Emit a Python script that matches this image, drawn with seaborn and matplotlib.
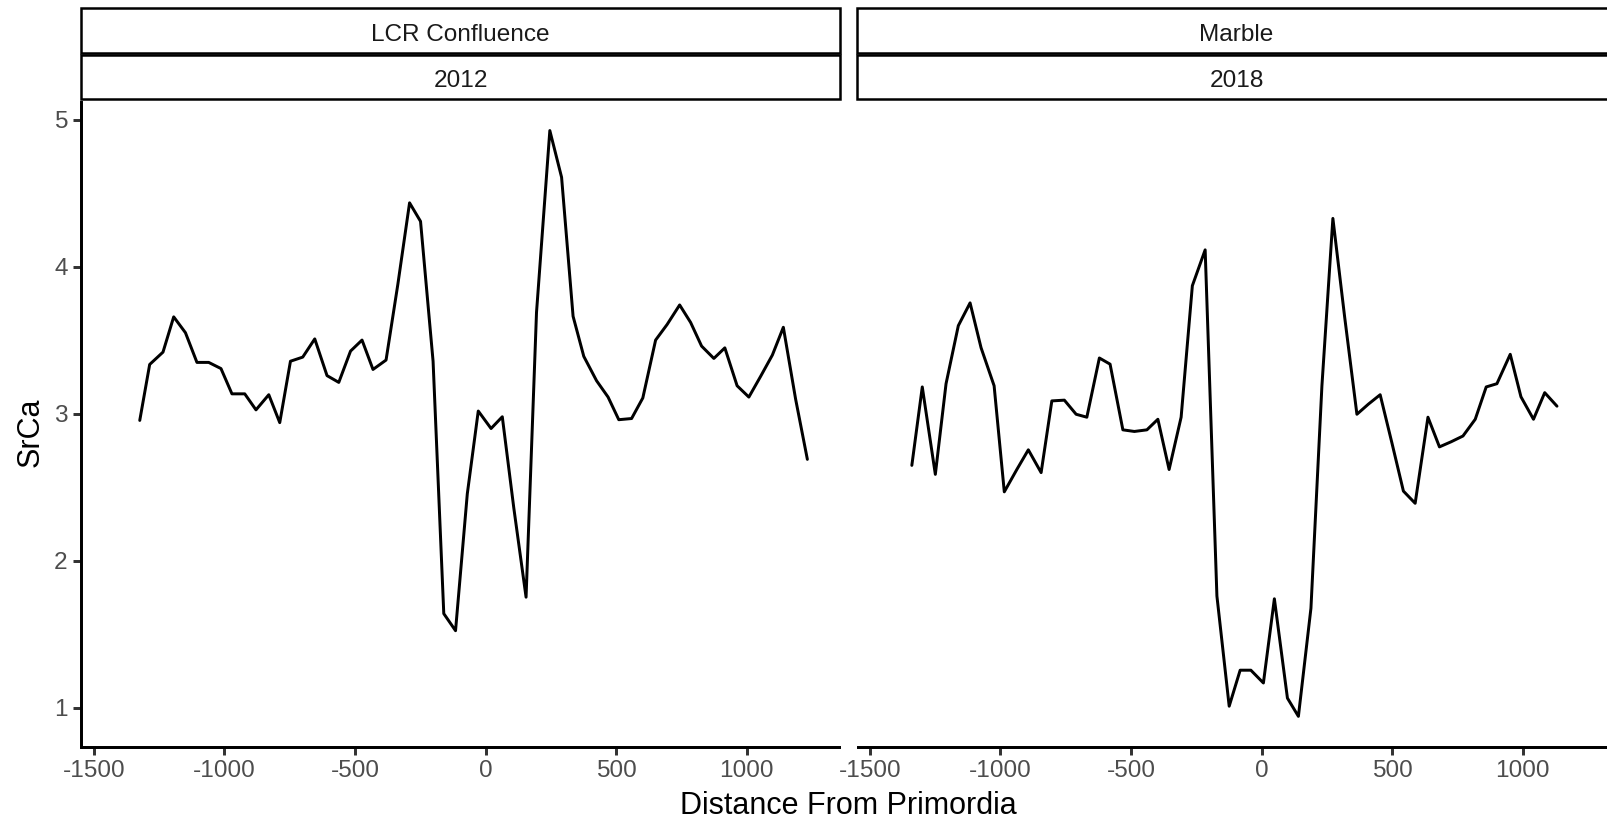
import numpy as np
import pandas as pd
import matplotlib
matplotlib.use("Agg")
import matplotlib.pyplot as plt
from matplotlib.patches import Rectangle
import seaborn as sns

sites = ["LCR Confluence", "Marble"]
years = ["2012", "2018"]

lcr_dist = [-1324, -1286, -1235, -1194, -1149, -1105, -1060, -1013, -971, -922,
            -879, -830, -788, -747, -700, -654, -607, -562, -517, -473,
            -431, -381, -336, -291, -249, -201, -160, -115, -70, -28,
            21, 64, 108, 155, 195, 246, 291, 335, 376, 425,
            469, 510, 559, 602, 651, 695, 743, 785, 827, 874,
            916, 963, 1008, 1053, 1098, 1140, 1187, 1232]
lcr_srca = [2.955, 3.336, 3.42, 3.66, 3.552, 3.35, 3.35, 3.308, 3.136, 3.136,
            3.027, 3.13, 2.94, 3.358, 3.386, 3.51, 3.26, 3.214, 3.427, 3.502,
            3.302, 3.366, 3.88, 4.436, 4.31, 3.358, 1.64, 1.524, 2.455, 3.019,
            2.9, 2.98, 2.36, 1.752, 3.69, 4.928, 4.61, 3.664, 3.391, 3.225,
            3.114, 2.96, 2.968, 3.108, 3.502, 3.608, 3.741, 3.622, 3.461, 3.377,
            3.449, 3.191, 3.114, 3.255, 3.40, 3.589, 3.1, 2.69]

marble_dist = [-1339, -1299, -1249, -1208, -1161, -1116, -1074, -1024, -985, -937,
               -893, -844, -803, -755, -710, -669, -621, -580, -531, -487,
               -439, -397, -354, -308, -265, -216, -171, -124, -82, -41,
               7, 49, 99, 141, 189, 231, 273, 318, 365, 409,
               454, 499, 543, 588, 637, 681, 726, 771, 818, 860,
               901, 952, 993, 1041, 1084, 1131]
marble_srca = [2.649, 3.183, 2.588, 3.205, 3.6, 3.755, 3.45, 3.191, 2.469, 2.621,
               2.755, 2.6, 3.088, 3.093, 2.997, 2.977, 3.38, 3.338, 2.891, 2.88,
               2.891, 2.963, 2.621, 2.977, 3.872, 4.116, 1.76, 1.01, 1.255, 1.255,
               1.168, 1.741, 1.065, 0.941, 1.677, 3.19, 4.33, 3.66, 2.997, 3.066,
               3.13, 2.802, 2.474, 2.391, 2.977, 2.775, 2.81, 2.849, 2.963, 3.183,
               3.205, 3.405, 3.116, 2.963, 3.144, 3.052]

x_ticks = [-1500, -1000, -500, 0, 500, 1000]
y_ticks = [1, 2, 3, 4, 5]

df = pd.concat([
    pd.DataFrame({"Distance": lcr_dist, "SrCa": lcr_srca, "Site": sites[0], "Year": years[0]}),
    pd.DataFrame({"Distance": marble_dist, "SrCa": marble_srca, "Site": sites[1], "Year": years[1]}),
])

sns.set_style("white")
plt.rcParams["font.family"] = ["Liberation Sans", "DejaVu Sans"]

W, H, DPI = 1608, 822, 200
fig = plt.figure(figsize=(W / DPI, H / DPI), dpi=DPI)

panel_top, panel_bot = 102.5, 746.6
panel_w = 758
lefts = [81.5, 857.5]
strip_w = [758.5, 758]
xlim = (-1547, 1355)
ylim = (0.735, 5.119)

strip_rows = [(8.5, 53.0), (55.0, 99.0)]

for i, (site, year) in enumerate(zip(sites, years)):
    ax = fig.add_axes([lefts[i] / W, (H - panel_bot) / H, panel_w / W,
                       (panel_bot - panel_top) / H])
    sub = df[df["Site"] == site]
    sns.lineplot(data=sub, x="Distance", y="SrCa", ax=ax, color="black",
                 linewidth=1.07, estimator=None, sort=False)
    ax.set_xlim(*xlim)
    ax.set_ylim(*ylim)
    ax.set_xticks(x_ticks)
    ax.set_xticklabels([str(t) for t in x_ticks])
    ax.set_xlabel("")
    ax.set_ylabel("")
    for s in ["top", "right"]:
        ax.spines[s].set_visible(False)
    ax.spines["bottom"].set_linewidth(1.07)
    ax.spines["bottom"].set_color("black")
    if i == 0:
        ax.set_yticks(y_ticks)
        ax.set_yticklabels([str(t) for t in y_ticks])
        ax.spines["left"].set_linewidth(1.07)
        ax.spines["left"].set_color("black")
        ax.tick_params(axis="y", length=2.75, width=1.07, color="#333333",
                       labelsize=8.8, labelcolor="#4D4D4D", pad=2.2, left=True)
    else:
        ax.spines["left"].set_visible(False)
        ax.set_yticks([])
    ax.tick_params(axis="x", length=2.75, width=1.07, color="#333333",
                   labelsize=8.8, labelcolor="#4D4D4D", pad=2.2, bottom=True)
    ax.grid(False)

    # facet strips (two rows: site, year)
    for (top, bot), label in zip(strip_rows, [site, year]):
        rx = lefts[i] / W
        ry = (H - bot) / H
        rect = Rectangle((rx, ry), strip_w[i] / W, (bot - top) / H,
                         transform=fig.transFigure, facecolor="white",
                         edgecolor="black", linewidth=0.9, clip_on=False)
        fig.patches.append(rect)
        fig.text(rx + strip_w[i] / W / 2, (H - (top + bot) / 2 - 4) / H, label,
                 ha="center", va="center", fontsize=8.8, color="#1A1A1A")

fig.text(848 / W, (H - 806) / H, "Distance From Primordia", ha="center",
         va="center", fontsize=11, color="black")
fig.text(31 / W, (H - 432) / H, "SrCa", ha="center",
         va="center", rotation=90, fontsize=11, color="black")

fig.savefig("out.png", dpi=DPI, facecolor="white")
